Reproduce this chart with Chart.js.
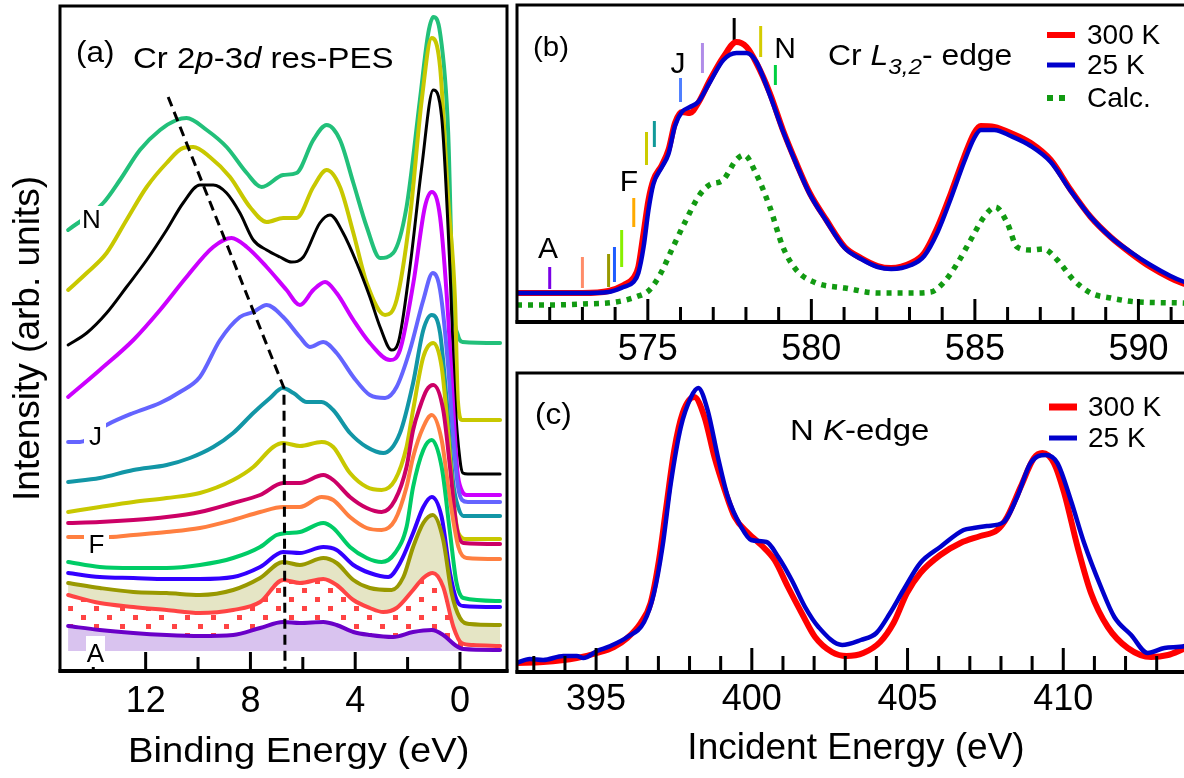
<!DOCTYPE html>
<html><head><meta charset="utf-8">
<script src="https://cdn.jsdelivr.net/npm/chart.js@4.4.0/dist/chart.umd.min.js"></script>
<style>
html,body{margin:0;padding:0;background:#fff;width:1184px;height:778px;overflow:hidden;position:relative;}
canvas{position:absolute;}
</style></head><body>
<canvas id="ca" width="510" height="778" style="left:0px;top:0px"></canvas>
<canvas id="cb" width="690" height="365" style="left:510px;top:0px"></canvas>
<canvas id="cc" width="690" height="413" style="left:510px;top:365px"></canvas>
<script>
// ---------- Panel (a): Cr 2p-3d resonant PES, binding energy (eV) vs offset intensity (arb. units)
const eA = [14.96, 13.75, 12.47, 11.2, 9.93, 8.66, 7.63, 6.75, 6.11, 5.22, 4.71, 4.07, 3.44, 2.55, 1.79, 1.08, 0.64, 0.19, -0.13, -1.53];
const iA = [45, 41, 38, 36, 35, 36, 43, 49, 48, 49, 46, 39, 36, 34, 39, 41, 36, 26, 22, 21];
const eB = [14.96, 13.75, 12.47, 11.2, 9.93, 8.66, 7.63, 6.75, 6.11, 5.22, 4.71, 4.07, 3.44, 2.93, 2.42, 1.79, 1.4, 1.04, 0.64, 0.25, -0.06, -0.5, -1.53];
const iB = [76, 68, 64, 61, 58, 61, 69, 91, 88, 92, 86, 71, 63, 59, 63, 81, 93, 98, 84, 44, 28, 26, 25];
const eC = [14.96, 13.75, 12.47, 11.2, 9.93, 8.66, 7.63, 6.75, 6.11, 5.22, 4.71, 4.07, 3.44, 2.61, 2.16, 1.79, 1.4, 1.04, 0.64, 0.32, 0, -0.38, -1.53];
const iC = [88, 83, 79, 78, 76, 81, 93, 109, 106, 113, 108, 91, 83, 81, 94, 124, 148, 156, 131, 78, 53, 47, 46];
const eD = [14.96, 13.75, 12.47, 11.2, 9.93, 8.66, 7.63, 6.75, 6.11, 5.22, 4.71, 4.07, 3.44, 2.74, 2.29, 1.79, 1.4, 1.08, 0.7, 0.38, 0.13, -0.13, -1.53];
const iD = [98, 94, 93, 92, 92, 94, 104, 119, 118, 124, 121, 106, 98, 94, 108, 138, 164, 174, 154, 98, 71, 65, 64];
const eE = [14.96, 13.75, 12.47, 11.2, 9.93, 8.66, 7.63, 7.0, 6.62, 6.11, 5.22, 4.84, 4.2, 3.56, 2.99, 2.48, 2.04, 1.79, 1.4, 1.08, 0.7, 0.38, 0.13, -0.13, -1.53];
const iE = [109, 104, 103, 103, 106, 113, 124, 136, 138, 139, 148, 143, 124, 113, 109, 118, 144, 184, 221, 231, 204, 138, 88, 73, 70];
const eF = [14.96, 13.36, 12.47, 11.2, 9.93, 8.66, 7.63, 6.75, 6.11, 5.28, 4.84, 4.2, 3.56, 2.99, 2.48, 2.04, 1.79, 1.4, 1.08, 0.7, 0.38, 0.06, -0.25, -1.53];
const iF = [134, 134, 136, 139, 143, 151, 159, 164, 164, 174, 171, 154, 143, 141, 151, 184, 214, 244, 256, 231, 171, 124, 113, 112];
const eG = [14.96, 13.75, 12.47, 11.2, 9.93, 8.66, 7.63, 6.75, 6.11, 5.22, 4.84, 4.2, 3.56, 2.99, 2.48, 2.04, 1.79, 1.53, 1.27, 1.02, 0.64, 0.38, 0.13, -0.13, -1.53];
const iG = [148, 149, 151, 154, 159, 168, 176, 188, 188, 196, 191, 174, 163, 159, 171, 204, 241, 264, 281, 286, 261, 204, 144, 128, 127];
const eH = [14.96, 13.75, 12.47, 11.2, 9.93, 8.66, 7.89, 7.13, 6.75, 6.11, 5.28, 4.84, 4.2, 3.56, 2.99, 2.48, 2.04, 1.79, 1.4, 1.02, 0.7, 0.45, 0.25, 0.06, -0.25, -1.53];
const iH = [159, 164, 169, 173, 178, 191, 204, 224, 228, 225, 229, 224, 198, 184, 181, 191, 224, 261, 314, 328, 304, 238, 171, 138, 132, 132];
const eI = [14.96, 13.75, 12.47, 11.2, 10.31, 9.42, 8.66, 7.89, 7.25, 6.77, 6.36, 5.85, 5.28, 4.84, 4.2, 3.56, 2.93, 2.29, 1.79, 1.4, 1.08, 0.76, 0.51, 0.26, 0.07, -0.13, -1.53];
const iI = [189, 193, 201, 206, 213, 224, 238, 258, 273, 283, 278, 269, 269, 261, 238, 224, 218, 238, 288, 341, 356, 338, 271, 188, 164, 155, 155];
const eJ = [14.96, 14.51, 13.49, 12.47, 11.45, 10.69, 9.93, 9.16, 8.4, 7.89, 7.38, 6.75, 6.11, 5.73, 5.22, 4.71, 4.07, 3.44, 2.86, 2.42, 1.91, 1.4, 1.04, 0.76, 0.45, 0.25, 0.08, -0.08, -0.3, -1.53];
const iJ = [229, 229, 246, 258, 268, 279, 294, 331, 354, 359, 366, 354, 334, 324, 329, 318, 294, 276, 273, 284, 321, 371, 398, 381, 304, 230, 185, 171, 169, 169];
const eK = [14.96, 13.75, 12.47, 11.45, 10.44, 9.42, 8.72, 8.14, 7.38, 6.62, 6.11, 5.6, 5.15, 4.71, 4.07, 3.44, 2.67, 2.29, 1.78, 1.34, 1.08, 0.76, 0.45, 0.25, 0.1, -0.06, -0.26, -1.53];
const iK = [274, 301, 331, 361, 394, 424, 433, 424, 404, 381, 366, 381, 389, 378, 351, 328, 311, 321, 388, 464, 479, 454, 354, 260, 200, 181, 176, 176];
const eL = [14.96, 14.25, 13.49, 12.73, 11.96, 11.2, 10.57, 9.93, 9.42, 8.91, 8.4, 7.89, 7.38, 6.87, 6.43, 5.98, 5.35, 4.96, 4.46, 3.94, 3.44, 3.05, 2.61, 2.36, 1.91, 1.46, 1.02, 0.7, 0.38, 0.19, 0.0, -0.11, -0.3, -1.53];
const iL = [326, 338, 358, 384, 411, 441, 468, 486, 486, 478, 458, 431, 421, 414, 409, 414, 448, 456, 438, 408, 374, 344, 321, 328, 404, 504, 581, 554, 400, 271, 211, 198, 197, 197];
const eM = [14.96, 14.25, 13.49, 12.73, 11.96, 11.2, 10.57, 10.18, 9.55, 8.78, 8.02, 7.38, 6.75, 6.24, 5.6, 5.09, 4.58, 4.07, 3.56, 2.86, 2.42, 1.91, 1.46, 1.08, 0.76, 0.45, 0.19, 0.08, -0.08, -1.53];
const iM = [381, 398, 418, 451, 484, 508, 523, 524, 514, 494, 464, 449, 453, 453, 484, 501, 484, 438, 388, 356, 371, 454, 571, 633, 604, 471, 371, 270, 251, 251];
const eN = [14.96, 13.62, 12.98, 12.22, 11.45, 10.82, 10.44, 9.67, 8.91, 8.14, 7.57, 6.75, 6.24, 5.6, 5.09, 4.58, 4.07, 3.56, 3.05, 2.55, 2.04, 1.53, 1.21, 1.02, 0.76, 0.45, 0.27, 0.08, -0.1, -1.53];
const iN = [441, 468, 491, 521, 541, 551, 553, 541, 524, 498, 484, 496, 498, 531, 546, 531, 488, 444, 413, 418, 464, 571, 638, 654, 638, 538, 371, 336, 329, 328];
const guideE = [11.14, 6.72, 6.68];
const guideI = [574, 283, 0];
const ticksA = [0, 2, 4, 6, 8, 10, 12, 14];
const labelsA = [0, 4, 8, 12];

// ---------- Panel (b): Cr L3,2-edge XAS
const eXas = [571.0, 572.0, 573.0, 573.8, 574.26, 574.56, 574.71, 574.87, 575.02, 575.17, 575.43, 575.63, 575.83, 576.04, 576.29, 576.54, 576.9, 577.31, 577.71, 578.02, 578.32, 578.73, 579.13, 579.54, 579.95, 580.46, 581.02, 581.52, 582.03, 582.44, 583.05, 583.45, 583.86, 584.27, 584.67, 584.98, 585.18, 585.59, 586.1, 586.71, 587.32, 587.93, 588.54, 589.15, 589.76, 590.37, 590.98, 591.33, 591.8];
const i300 = [29, 29, 29, 31, 37, 44, 55, 89, 122, 142, 157, 172, 199, 210, 209, 219, 242, 265, 280, 275, 259, 229, 192, 159, 129, 102, 75, 64, 56, 54, 59, 69, 95, 129, 165, 189, 196, 195, 189, 179, 162, 132, 105, 85, 69, 55, 44, 39, 34];
const i25 = [29, 29, 29, 30, 35, 40, 49, 75, 112, 138, 155, 168, 196, 210, 215, 220, 240, 262, 269, 269, 260, 227, 191, 158, 128, 101, 74, 63, 55, 53, 57, 66, 90, 124, 160, 184, 192, 192, 186, 176, 160, 131, 105, 85, 70, 57, 46, 41, 36];
const eCalc = [571.0, 572.0, 573.0, 574.02, 574.63, 575.05, 575.4, 575.77, 576.17, 576.58, 576.88, 577.3, 577.7, 577.95, 578.3, 578.73, 579.13, 579.54, 580.15, 581.03, 582.03, 583.05, 583.65, 584.06, 584.47, 584.87, 585.28, 585.63, 585.99, 586.29, 586.71, 587.1, 587.52, 588.02, 588.54, 589.15, 589.97, 591.33, 591.8];
const iCalc = [17, 17, 18, 20, 25, 32, 49, 75, 102, 127, 137, 142, 162, 167, 149, 115, 75, 52, 39, 34, 29, 29, 30, 40, 59, 82, 105, 115, 99, 75, 72, 73, 62, 42, 29, 24, 20, 19, 18];
const markE = [572.0, 573.0, 573.8, 573.98, 574.2, 574.57, 574.96, 575.2, 576.0, 576.67, 577.64, 578.45, 578.9];
const markLo = [33, 34, 35, 40, 55, 95, 157, 175, 220, 249, 282, 265, 237];
const markHi = [55, 65, 68, 75, 92, 124, 190, 201, 244, 279, 304, 296, 257];
const markColors = ['#7a00e6', '#ff8c69', '#999900', '#1e5cff', '#88f000', '#ffaa00', '#cccc00', '#119999', '#4f7fff', '#b08ce8', '#000000', '#d4cc00', '#00d040'];
const ticksB = [572, 573, 574, 575, 576, 577, 578, 579, 580, 581, 582, 583, 584, 585, 586, 587, 588, 589, 590, 591];
const labelsB = [575, 580, 585, 590];

// ---------- Panel (c): N K-edge XAS
const eN300 = [392.44, 393.3, 394.38, 395.03, 395.57, 396.0, 396.43, 396.75, 397.02, 397.24, 397.51, 397.78, 398.15, 398.48, 398.8, 399.13, 399.45, 399.88, 400.3, 400.73, 401.16, 401.6, 402.03, 402.57, 403.04, 403.58, 404.12, 404.55, 404.98, 405.41, 406.05, 406.7, 407.34, 407.88, 408.2, 408.63, 409.06, 409.33, 409.7, 410.03, 410.46, 410.89, 411.43, 412.07, 412.82, 413.36, 413.95, 414.3];
const iN300 = [9, 10, 14, 19, 25, 34, 49, 69, 112, 162, 222, 259, 275, 255, 215, 182, 155, 139, 127, 112, 85, 59, 35, 20, 16, 19, 30, 49, 79, 99, 117, 129, 136, 142, 155, 185, 214, 219, 209, 179, 125, 79, 45, 24, 15, 17, 24, 27];
const eN25 = [392.44, 392.87, 393.3, 393.95, 394.38, 394.59, 395.03, 395.46, 396.0, 396.54, 396.86, 397.13, 397.4, 397.72, 398.05, 398.28, 398.58, 398.91, 399.23, 399.66, 399.98, 400.47, 400.85, 401.28, 401.71, 402.14, 402.9, 403.5, 404.0, 404.44, 404.87, 405.41, 406.05, 406.8, 407.12, 407.55, 408.09, 408.52, 408.95, 409.44, 409.81, 410.24, 410.67, 411.21, 411.64, 412.18, 412.71, 413.25, 413.9, 414.3];
const iN25 = [9, 13, 12, 16, 16, 14, 21, 26, 35, 50, 79, 125, 189, 245, 275, 284, 262, 215, 175, 145, 132, 130, 115, 92, 65, 45, 27, 32, 39, 59, 82, 109, 125, 142, 144, 146, 150, 175, 209, 217, 209, 172, 129, 85, 55, 37, 19, 24, 26, 32];
const ticksC = [393, 394, 395, 396, 397, 398, 399, 400, 401, 402, 403, 404, 405, 406, 407, 408, 409, 410, 411, 412, 413];
const labelsC = [395, 400, 405, 410];

// ---------------------------------------------------------------
const FONT = '"Liberation Sans", Arial, Helvetica, sans-serif';
Chart.defaults.font.family = FONT;
Chart.defaults.color = '#000';

const pts = (xs, ys) => xs.map((x, k) => ({x: x, y: ys[k]}));

function makePattern() {
  const t = document.createElement('canvas');
  t.width = 26; t.height = 18;
  const g = t.getContext('2d');
  g.fillStyle = '#ff4444';
  g.fillRect(3, 3, 5, 5);
  g.fillRect(16, 12, 5, 5);
  return g.createPattern(t, 'repeat');
}

function inTicks(chart, values, majors, majLen, minLen) {
  const {ctx, chartArea: a, scales: {x}} = chart;
  ctx.save(); ctx.strokeStyle = '#000'; ctx.lineWidth = 3;
  values.forEach(v => {
    const px = x.getPixelForValue(v);
    const L = majors.includes(v) ? majLen : minLen;
    ctx.beginPath(); ctx.moveTo(px, a.bottom); ctx.lineTo(px, a.bottom - L); ctx.stroke();
  });
  ctx.restore();
}
function frame(chart) {
  const {ctx, chartArea: a} = chart;
  ctx.save(); ctx.strokeStyle = '#000'; ctx.lineWidth = 3;
  ctx.strokeRect(a.left, a.top, a.right - a.left, a.bottom - a.top);
  ctx.lineWidth = 4;
  ctx.beginPath(); ctx.moveTo(a.left - 1.5, a.bottom); ctx.lineTo(a.right + 1.5, a.bottom); ctx.stroke();
  ctx.restore();
}
function rich(ctx, x, y, parts, sx) {
  ctx.save(); ctx.translate(x, y); ctx.scale(sx || 1, 1);
  ctx.fillStyle = '#000'; ctx.textBaseline = 'alphabetic'; ctx.textAlign = 'left';
  let cx = 0;
  for (const p of parts) {
    ctx.font = (p.it ? 'italic ' : '') + p.sz + 'px ' + FONT;
    ctx.fillText(p.t, cx, p.dy || 0);
    cx += ctx.measureText(p.t).width;
  }
  ctx.restore();
}
function label(ctx, t, cx, base, sz, box) {
  ctx.save();
  if (box) { ctx.fillStyle = '#fff'; ctx.fillRect(box[0], box[1], box[2], box[3]); }
  ctx.font = sz + 'px ' + FONT; ctx.fillStyle = '#000'; ctx.textAlign = 'center'; ctx.textBaseline = 'alphabetic';
  ctx.fillText(t, cx, base);
  ctx.restore();
}

const baseOpts = {
  responsive: false, animation: false, devicePixelRatio: 1, events: [],
  plugins: {legend: {display: false}, tooltip: {enabled: false}},
  elements: {point: {radius: 0}, line: {borderJoinStyle: 'round', borderCapStyle: 'round', cubicInterpolationMode: 'monotone'}}
};

// ---------------- Panel (a)
const dotPattern = makePattern();
const curvesA = [
  [eA, iA, '#6a00c8', 4, {value: 20}, '#d9c3ef'],
  [eB, iB, '#ff4444', 4, '-1', dotPattern],
  [eC, iC, '#999900', 4, '-1', '#e5e5c5'],
  [eD, iD, '#3300ff', 4, false],
  [eE, iE, '#00cc66', 4, false],
  [eF, iF, '#ff7f40', 4, false],
  [eG, iG, '#cc0066', 4, false],
  [eH, iH, '#c8c800', 4, false],
  [eI, iI, '#1296a6', 4, false],
  [eJ, iJ, '#6464ff', 4, false],
  [eK, iK, '#cc00ff', 4, false],
  [eL, iL, '#000000', 3, false],
  [eM, iM, '#c8c800', 4, false],
  [eN, iN, '#22c07a', 4, false]
];
const dsA = curvesA.map(c => ({
  data: pts(c[0], c[1]), borderColor: c[2], borderWidth: c[3], fill: c[4],
  backgroundColor: c[5] || 'transparent'
}));
dsA.push({data: pts(guideE, guideI), borderColor: '#000', borderWidth: 3, borderDash: [10, 6],
  borderCapStyle: 'butt', tension: 0, cubicInterpolationMode: 'default', fill: false, order: -1});

new Chart(document.getElementById('ca'), {
  type: 'line',
  data: {datasets: dsA},
  options: Object.assign({}, baseOpts, {
    layout: {padding: {top: 6, right: 3, left: 0, bottom: 0}},
    scales: {
      x: {type: 'linear', reverse: true, min: -1.795, max: 15.27,
        afterBuildTicks: s => { s.ticks = ticksA.map(v => ({value: v})); },
        afterFit: s => { s.height = 107; },
        grid: {display: false, drawTicks: false}, border: {display: false},
        ticks: {autoSkip: false, maxRotation: 0, minRotation: 0, padding: 9, font: {size: 36},
          callback: v => labelsA.includes(v) ? String(v) : ''},
        title: {display: false}},
      y: {type: 'linear', min: 0, max: 665,
        afterFit: s => { s.width = 60; },
        grid: {display: false, drawTicks: false}, border: {display: false},
        ticks: {display: false},
        title: {display: true, text: 'Intensity (arb. units)', font: {size: 37}, padding: {top: 7, bottom: 0}}}
    }
  }),
  plugins: [{
    id: 'decorA',
    afterDatasetsDraw(chart) {
      const ctx = chart.ctx;
      inTicks(chart, ticksA, labelsA, 19, 14);
      frame(chart);
      label(ctx, 'N', 91.5, 228, 26, [80, 206, 23, 28]);
      label(ctx, 'J', 95.5, 445, 26, [84, 421, 22, 29]);
      label(ctx, 'F', 96.5, 553, 26, [84, 529, 25, 28]);
      label(ctx, 'A', 95.5, 662, 26, [86, 636, 19, 31]);
      rich(ctx, 76, 62, [{t: '(a)', sz: 30}], 1.05);
      rich(ctx, 133, 68, [{t: 'Cr 2', sz: 30}, {t: 'p', sz: 30, it: true}, {t: '-3', sz: 30}, {t: 'd', sz: 30, it: true}, {t: ' res-PES', sz: 30}], 1.1);
      rich(ctx, 128, 762, [{t: 'Binding Energy (eV)', sz: 35}], 1.09);
    }
  }]
});

// ---------------- Panel (b)
const dsB = [
  {data: pts(eXas, i300), borderColor: '#ff0000', borderWidth: 6, fill: false, order: 1},
  {data: pts(eXas, i25), borderColor: '#0000cc', borderWidth: 4.5, fill: false, order: 0},
  {data: pts(eCalc, iCalc), borderColor: '#129a12', borderWidth: 5.5, borderDash: [5, 6], borderCapStyle: 'butt', fill: false, order: 2}
];
markE.forEach((e, k) => dsB.push({data: [{x: e, y: markLo[k]}, {x: e, y: markHi[k]}], borderColor: markColors[k],
  borderWidth: 3, borderCapStyle: 'butt', tension: 0, cubicInterpolationMode: 'default', fill: false, order: 3}));

new Chart(document.getElementById('cb'), {
  type: 'line',
  data: {datasets: dsB},
  options: Object.assign({}, baseOpts, {
    layout: {padding: {top: 5, right: 5, left: 7, bottom: 0}},
    scales: {
      x: {type: 'linear', min: 571.0, max: 591.73,
        afterBuildTicks: s => { s.ticks = ticksB.map(v => ({value: v})); },
        afterFit: s => { s.height = 43; },
        grid: {display: false, drawTicks: false}, border: {display: false},
        ticks: {autoSkip: false, maxRotation: 0, minRotation: 0, padding: 6, font: {size: 36},
          callback: v => labelsB.includes(v) ? String(v) : ''}},
      y: {type: 'linear', min: 0, max: 317, display: false}
    }
  }),
  plugins: [{
    id: 'decorB',
    afterDatasetsDraw(chart) {
      const ctx = chart.ctx;
      inTicks(chart, ticksB, labelsB, 23, 15);
      frame(chart);
      ctx.save(); ctx.translate(-510, 0);
      label(ctx, 'A', 548, 258, 30);
      label(ctx, 'F', 629, 191, 30);
      label(ctx, 'J', 678, 73, 30);
      label(ctx, 'N', 785, 58, 30);
      rich(ctx, 533, 56, [{t: '(b)', sz: 28}], 1.05);
      rich(ctx, 828, 65, [{t: 'Cr ', sz: 29}, {t: 'L', sz: 29, it: true}, {t: '3,2', sz: 22, it: true, dy: 9}, {t: '- edge', sz: 29}], 1.1);
      // legend
      ctx.lineCap = 'butt';
      ctx.strokeStyle = '#ff0000'; ctx.lineWidth = 6;
      ctx.beginPath(); ctx.moveTo(1047, 35); ctx.lineTo(1075, 35); ctx.stroke();
      ctx.strokeStyle = '#0000cc'; ctx.lineWidth = 5;
      ctx.beginPath(); ctx.moveTo(1047, 65); ctx.lineTo(1075, 65); ctx.stroke();
      ctx.fillStyle = '#129a12';
      ctx.fillRect(1047, 95, 6, 6); ctx.fillRect(1059, 95, 6, 6);
      ctx.fillStyle = '#000'; ctx.font = '28px ' + FONT; ctx.textBaseline = 'middle'; ctx.textAlign = 'left';
      ctx.fillText('300 K', 1087, 36);
      ctx.fillText('25 K', 1087, 66);
      ctx.fillText('Calc.', 1087, 99);
      ctx.restore();
    }
  }]
});

// ---------------- Panel (c)
new Chart(document.getElementById('cc'), {
  type: 'line',
  data: {datasets: [
    {data: pts(eN300, iN300), borderColor: '#ff0000', borderWidth: 6, fill: false, order: 1},
    {data: pts(eN25, iN25), borderColor: '#0000cc', borderWidth: 4.5, fill: false, order: 0}
  ]},
  options: Object.assign({}, baseOpts, {
    layout: {padding: {top: 8, right: 5, left: 7, bottom: 0}},
    scales: {
      x: {type: 'linear', min: 392.46, max: 414.23,
        afterBuildTicks: s => { s.ticks = ticksC.map(v => ({value: v})); },
        afterFit: s => { s.height = 106; },
        grid: {display: false, drawTicks: false}, border: {display: false},
        ticks: {autoSkip: false, maxRotation: 0, minRotation: 0, padding: 6, font: {size: 36},
          callback: v => labelsC.includes(v) ? String(v) : ''},
        title: {display: true, text: 'Incident Energy (eV)', font: {size: 37}, padding: {top: 0, bottom: 7}}},
      y: {type: 'linear', min: 0, max: 299, display: false}
    }
  }),
  plugins: [{
    id: 'decorC',
    afterDatasetsDraw(chart) {
      const ctx = chart.ctx;
      inTicks(chart, ticksC, labelsC, 24, 16);
      frame(chart);
      ctx.save(); ctx.translate(-510, -365);
      rich(ctx, 535, 424, [{t: '(c)', sz: 30}], 1.05);
      rich(ctx, 790, 440, [{t: 'N ', sz: 30}, {t: 'K', sz: 30, it: true}, {t: '-edge', sz: 30}], 1.1);
      ctx.lineCap = 'butt';
      ctx.strokeStyle = '#ff0000'; ctx.lineWidth = 7;
      ctx.beginPath(); ctx.moveTo(1049, 407); ctx.lineTo(1077, 407); ctx.stroke();
      ctx.strokeStyle = '#0000cc'; ctx.lineWidth = 5;
      ctx.beginPath(); ctx.moveTo(1049, 438); ctx.lineTo(1077, 438); ctx.stroke();
      ctx.fillStyle = '#000'; ctx.font = '28px ' + FONT; ctx.textBaseline = 'middle'; ctx.textAlign = 'left';
      ctx.fillText('300 K', 1088, 408);
      ctx.fillText('25 K', 1088, 439);
      ctx.restore();
    }
  }]
});
</script>
</body></html>
